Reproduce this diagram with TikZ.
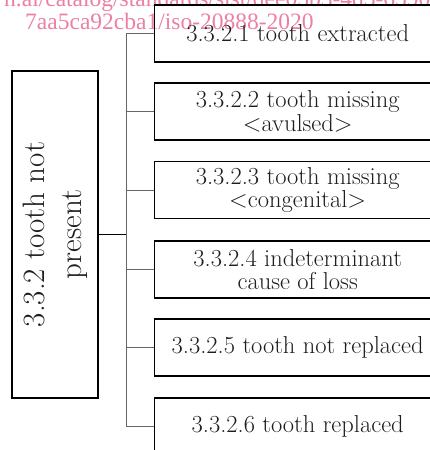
\documentclass[tikz,border=0pt]{standalone}
\usepackage{fontspec}
\newfontfamily\wmfont{Liberation Serif}
\definecolor{wmpink}{RGB}{236,128,164}
\definecolor{txt}{RGB}{30,30,30}
\begin{document}
\begin{tikzpicture}[x=1pt,y=-1pt,
  leaf/.style={draw=black,line width=1.4pt,minimum width=286pt,minimum height=57pt,anchor=west,inner sep=0pt,align=center,text=txt,font=\fontsize{24.5}{23.5}\selectfont},
  rootbox/.style={draw=black,line width=1.1pt,minimum width=327pt,minimum height=86pt,rotate=90,inner sep=0pt,align=center,text=txt,font=\fontsize{31}{37}\selectfont},
  conn/.style={draw=black!60,line width=0.9pt},
  wm/.style={text=wmpink,font=\wmfont\fontsize{23.5}{23.5}\selectfont,anchor=base west,inner sep=0pt}]
\useasboundingbox (0,0) rectangle (430,450);
\clip (0,0) rectangle (430,450);
\node[wm] (w1) at (4,6) {h.ai/catalog/standards/sist/dee05b3-4d5-6590};
\node[wm] (w2) at (25,29) {7aa5ca92cba1/iso-20888-2020};
\coordinate (sp) at (126,0);
\node[rootbox] (root) at (55,234.5) {3.3.2 tooth not\\present};
\node[leaf] (b1) at (154,33.5) {3.3.2.1 tooth extracted};
\node[leaf] (b2) at (154,111.5) {3.3.2.2 tooth missing\\<avulsed>};
\node[leaf] (b3) at (154,190) {3.3.2.3 tooth missing\\<congenital>};
\node[leaf] (b4) at (154,269.5) {3.3.2.4 indeterminant\\cause of loss};
\node[leaf] (b5) at (154,347.5) {3.3.2.5 tooth not replaced};
\node[leaf] (b6) at (154,426.5) {3.3.2.6 tooth replaced};
\draw[conn] (b1.west) -- (b1.west -| sp) -- (b6.west -| sp) -- (b6.west);
\foreach \b in {b2,b3,b4,b5} \draw[conn] (\b.west) -- (\b.west -| sp);
\draw[conn,draw=black,line width=1.1pt] (root.south) -- (root.south -| sp);
\end{tikzpicture}
\end{document}
